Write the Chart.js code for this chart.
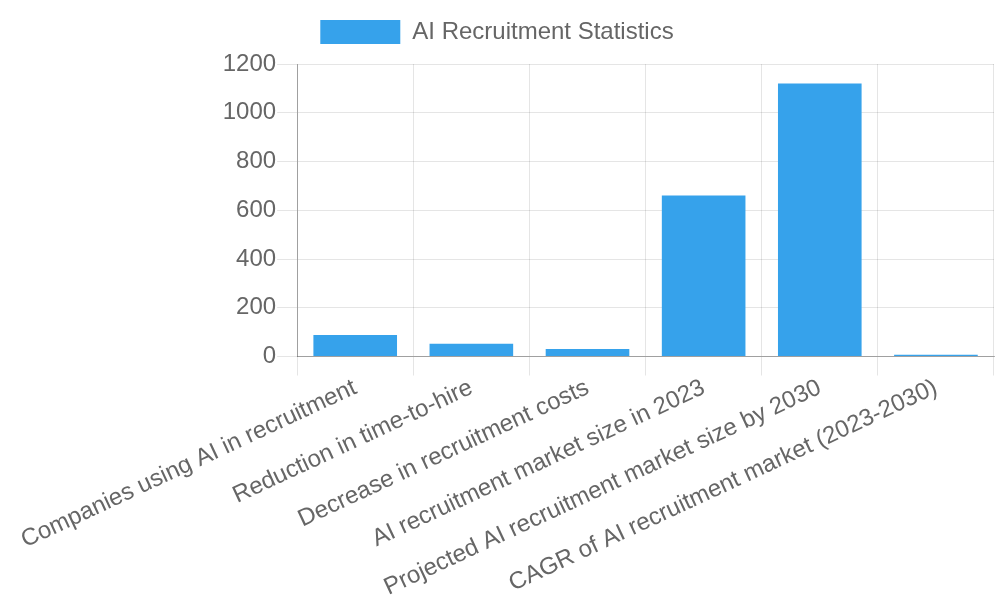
<!DOCTYPE html>
<html>
<head>
<meta charset="utf-8">
<script src="https://cdn.jsdelivr.net/npm/chart.js@4/dist/chart.umd.min.js"></script>
<style>
  html, body { margin: 0; padding: 0; background: #fff; }
  .chart-container { position: relative; width: 1000px; height: 600px; }
</style>
</head>
<body>
<div class="chart-container">
    <canvas id="myChart"></canvas>
</div>

<script>
    // Values
    const categories = [
        'Companies using AI in recruitment',
        'Reduction in time-to-hire',
        'Decrease in recruitment costs',
        'AI recruitment market size in 2023',
        'Projected AI recruitment market size by 2030',
        'CAGR of AI recruitment market (2023-2030)'
    ];
    const statValues = [88, 52, 31, 661, 1120, 7];
    const yTicks = [0, 200, 400, 600, 800, 1000, 1200];

    Chart.defaults.font.family = '"Liberation Sans", Arial, sans-serif';
    Chart.defaults.font.size = 24;
    Chart.defaults.color = '#666';

    // a bit more room under the legend
    const legendMargin = {
        id: 'legendMargin',
        beforeInit(chart) {
            const origFit = chart.legend.fit;
            chart.legend.fit = function () {
                origFit.bind(chart.legend)();
                this.height += 10;
            };
        }
    };

    const ctx = document.getElementById('myChart').getContext('2d');
    const myChart = new Chart(ctx, {
        type: 'bar',
        data: {
            labels: categories,
            datasets: [{
                label: 'AI Recruitment Statistics',
                data: statValues,
                backgroundColor: '#36A2EB',
                borderColor: '#36A2EB',
                borderWidth: 0
            }]
        },
        options: {
            responsive: true,
            maintainAspectRatio: false,
            animation: false,
            layout: {
                padding: { top: 10, right: 6 }
            },
            plugins: {
                legend: {
                    labels: { boxWidth: 80, boxHeight: 24 }
                }
            },
            scales: {
                x: {
                    ticks: { padding: -2, minRotation: 25, maxRotation: 25 },
                    grid: { color: 'rgba(0,0,0,0.1)', tickLength: 19 },
                    border: { color: 'rgba(0,0,0,0.3)' }
                },
                y: {
                    beginAtZero: true,
                    min: yTicks[0],
                    max: yTicks[yTicks.length - 1],
                    afterFit: scale => { scale.width = 297; },
                    ticks: {
                        stepSize: yTicks[1] - yTicks[0],
                        padding: 1,
                        callback: v => String(v)
                    },
                    grid: { color: 'rgba(0,0,0,0.1)', tickLength: 20 },
                    border: { color: 'rgba(0,0,0,0.3)' }
                }
            }
        },
        plugins: [legendMargin]
    });
</script>
</body>
</html>
